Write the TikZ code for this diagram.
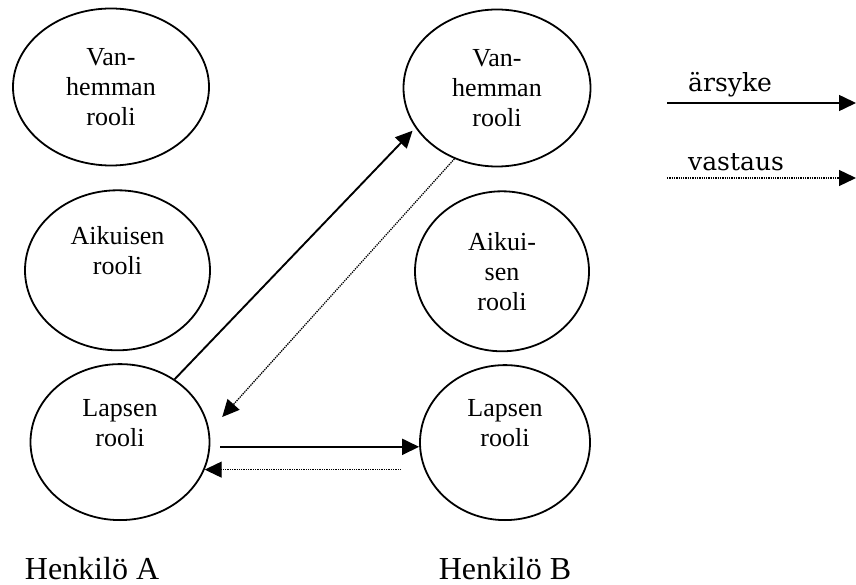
\documentclass[tikz,border=0pt]{standalone}
\usepackage{fontspec}
\setmainfont{Liberation Serif}
\newfontfamily\legendfont{DejaVu Serif}
\usetikzlibrary{shapes.geometric, arrows.meta, positioning}

\begin{document}
\begin{tikzpicture}[x=1pt, y=-1pt,
    role/.style={draw, ellipse, line width=1.8pt, inner sep=0pt, align=center,
                 font=\fontsize{26}{30}\selectfont},
    person/.style={inner sep=0pt, font=\fontsize{32}{38}\selectfont},
    legend/.style={inner sep=0pt, text depth=0pt, font=\legendfont\fontsize{25}{30}\selectfont},
    arr/.style={-{Triangle[length=17pt, width=16pt]}, line width=1.9pt},
    resp/.style={-{Triangle[length=17pt, width=16pt]}, densely dotted, line width=1.3pt}]
  \useasboundingbox (0,0) rectangle (856,585);

  % Henkilö A
  \node[role, minimum width=196pt, minimum height=157pt] (vA) at (111,87) {Van-\\hemman\\rooli};
  \node[role, minimum width=185pt, minimum height=160pt,
        below=23pt of vA, xshift=6.5pt] (aA) {Aikuisen\\rooli\\\strut};
  \node[role, minimum width=179pt, minimum height=156pt,
        below=12pt of aA, xshift=2.5pt] (lA) {Lapsen\\rooli\\\strut};

  % Henkilö B
  \node[role, minimum width=187pt, minimum height=157pt] (vB) at (497,88) {Van-\\hemman\\rooli};
  \node[role, minimum width=174pt, minimum height=160pt,
        below=23pt of vB, xshift=5pt] (aB) {Aikui-\\sen\\rooli};
  \node[role, minimum width=170pt, minimum height=155pt,
        below=12pt of aB, xshift=3pt] (lB) {Lapsen\\rooli\\\strut};

  \node[person, below=36pt of lA, xshift=-28pt] (hA) {Henkilö A};
  \node[person, below=36pt of lB] (hB) {Henkilö B};

  % transactions
  \draw[arr, shorten >=4pt] (lA.49) -- (vB.206);
  \draw[resp, shorten >=19pt] (vB.239) -- (lA.7);
  \draw[arr, shorten <=10pt] (lA.-3) -- (lA.-3 -| lB.west);
  \draw[resp, shorten <=18pt] (lA.-18 -| lB.west) -- (lA.-18);

  % legend
  \coordinate (k1) at (667,103);
  \coordinate (k2) at (856,103);
  \coordinate (k3) at (667,178);
  \coordinate (k4) at (856,178);
  \draw[arr, line width=1.5pt] (k1) -- (k2);
  \draw[resp] (k3) -- (k4);
  \node[legend, above right=11pt and 21pt of k1] (ars) {ärsyke};
  \node[legend, above right=7pt and 21pt of k3] (vas) {vastaus};
\end{tikzpicture}
\end{document}
